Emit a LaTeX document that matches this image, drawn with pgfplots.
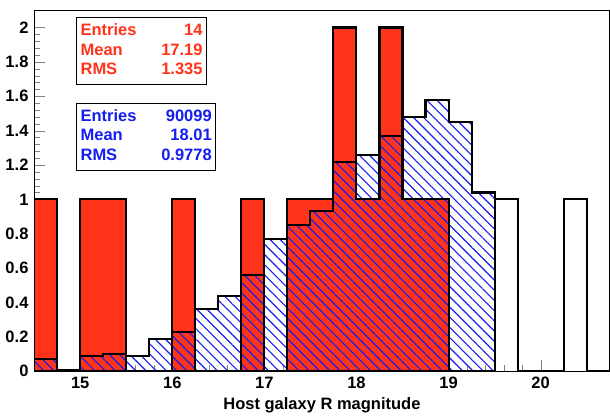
\documentclass[border=0pt]{standalone}
\usepackage{pgfplots}
\pgfplotsset{compat=1.18}
\usetikzlibrary{patterns.meta}
\usepackage{fontspec}
\setmainfont{Liberation Sans}
\definecolor{rred}{RGB}{255,51,25}
\definecolor{rblue}{RGB}{20,30,240}
\begin{document}
\fontsize{16}{19}\selectfont\bfseries
\begin{tikzpicture}
\begin{axis}[
  name=ax,
  width=558pt, height=350pt, scale only axis,
  xmin=14.5, xmax=20.75, ymin=0, ymax=2.1,
  xtick={15,16,17,18,19,20}, minor x tick num=4,
  ytick={0,0.2,0.4,0.6,0.8,1,1.2,1.4,1.6,1.8,2},
  yticklabels={0,0.2,0.4,0.6,0.8,1,1.2,1.4,1.6,1.8,2},
  minor y tick num=4,
  tick align=inside, xtick pos=bottom, ytick pos=left,
  major tick length=11pt, minor tick length=6pt,
  /pgf/number format/assume math mode=true,
  tick label style={font=\fontsize{16}{19}\selectfont\bfseries},
  xlabel={Host galaxy R magnitude},
  xlabel style={font=\fontsize{16}{19}\selectfont\bfseries, yshift=2pt},
  axis line style={line width=0.6pt},
  clip=true,
]
\addplot[const plot mark left, fill=rred, draw=none] coordinates {
(14.5,1)(14.75,0)(15,1)(15.25,1)(15.5,0)(15.75,0)(16,1)(16.25,0)(16.5,0)(16.75,1)(17,0)(17.25,1)(17.5,1)(17.75,2)(18,1)(18.25,2)(18.5,1)(18.75,1)(19,0)(19.25,0)(19.5,0)} \closedcycle;
\addplot[const plot mark left, pattern={Lines[angle=-45,distance=7pt,line width=1.1pt]}, pattern color=rblue, draw=black, line width=2pt] coordinates {
(14.5,0.07)(14.75,0.01)(15,0.09)(15.25,0.10)(15.5,0.09)(15.75,0.19)(16,0.23)(16.25,0.36)(16.5,0.44)(16.75,0.56)(17,0.77)(17.25,0.85)(17.5,0.93)(17.75,1.22)(18,1.26)(18.25,1.37)(18.5,1.48)(18.75,1.58)(19,1.45)(19.25,1.04)(19.5,0)} \closedcycle;
\addplot[const plot mark left, draw=black, line width=2pt] coordinates {
(14.5,1)(14.75,0)(15,1)(15.25,1)(15.5,0)(15.75,0)(16,1)(16.25,0)(16.5,0)(16.75,1)(17,0)(17.25,1)(17.5,1)(17.75,2)(18,1)(18.25,2)(18.5,1)(18.75,1)(19,0)(19.25,0)(19.5,1)(19.75,0)(20,0)(20.25,1)(20.5,0)(20.75,0)};
\addplot[draw=black, line width=2pt] coordinates {(14.5,0)(14.5,1)};
\node[draw=black, line width=0.8pt, fill=white, anchor=north west, text=rred, inner sep=4pt]
  at (axis cs:14.955,2.06) {\begin{tabular}{@{}l@{\hspace{24pt}}r@{}}Entries & 14\\ Mean & 17.19\\ RMS & 1.335\end{tabular}};
\node[draw=black, line width=0.8pt, fill=white, anchor=north west, text=rblue, inner sep=4pt]
  at (axis cs:14.955,1.56) {\begin{tabular}{@{}l@{\hspace{24pt}}r@{}}Entries & 90099\\ Mean & 18.01\\ RMS & 0.9778\end{tabular}};
\end{axis}
\path ([yshift=10pt]ax.north west) -- ([yshift=10pt]ax.north east);
\end{tikzpicture}
\end{document}
